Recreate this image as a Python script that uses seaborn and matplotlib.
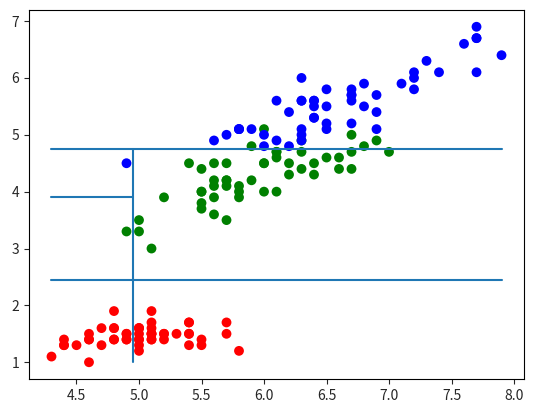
import pandas as pd
import matplotlib
matplotlib.use("Agg")
import matplotlib.pyplot as plt
import seaborn as sns

# iris : longueur sépale / longueur pétale
setosa_sl = [5.1, 4.9, 4.7, 4.6, 5.0, 5.4, 4.6, 5.0, 4.4, 4.9, 5.4, 4.8, 4.8, 4.3, 5.8, 5.7, 5.4,
             5.1, 5.7, 5.1, 5.4, 5.1, 4.6, 5.1, 4.8, 5.0, 5.0, 5.2, 5.2, 4.7, 4.8, 5.4, 5.2, 5.5,
             4.9, 5.0, 5.5, 4.9, 4.4, 5.1, 5.0, 4.5, 4.4, 5.0, 5.1, 4.8, 5.1, 4.6, 5.3, 5.0]
setosa_pl = [1.4, 1.4, 1.3, 1.5, 1.4, 1.7, 1.4, 1.5, 1.4, 1.5, 1.5, 1.6, 1.4, 1.1, 1.2, 1.5, 1.3,
             1.4, 1.7, 1.5, 1.7, 1.5, 1.0, 1.7, 1.9, 1.6, 1.6, 1.5, 1.4, 1.6, 1.6, 1.5, 1.5, 1.4,
             1.5, 1.2, 1.3, 1.4, 1.3, 1.5, 1.3, 1.3, 1.3, 1.6, 1.9, 1.4, 1.6, 1.4, 1.5, 1.4]
versicolor_sl = [7.0, 6.4, 6.9, 5.5, 6.5, 5.7, 6.3, 4.9, 6.6, 5.2, 5.0, 5.9, 6.0, 6.1, 5.6, 6.7, 5.6,
                 5.8, 6.2, 5.6, 5.9, 6.1, 6.3, 6.1, 6.4, 6.6, 6.8, 6.7, 6.0, 5.7, 5.5, 5.5, 5.8, 6.0,
                 5.4, 6.0, 6.7, 6.3, 5.6, 5.5, 5.5, 6.1, 5.8, 5.0, 5.6, 5.7, 5.7, 6.2, 5.1, 5.7]
versicolor_pl = [4.7, 4.5, 4.9, 4.0, 4.6, 4.5, 4.7, 3.3, 4.6, 3.9, 3.5, 4.2, 4.0, 4.7, 3.6, 4.4, 4.5,
                 4.1, 4.5, 3.9, 4.8, 4.0, 4.9, 4.7, 4.3, 4.4, 4.8, 5.0, 4.5, 3.5, 3.8, 3.7, 3.9, 5.1,
                 4.5, 4.5, 4.7, 4.4, 4.1, 4.0, 4.4, 4.6, 4.0, 3.3, 4.2, 4.2, 4.2, 4.3, 3.0, 4.1]
virginica_sl = [6.3, 5.8, 7.1, 6.3, 6.5, 7.6, 4.9, 7.3, 6.7, 7.2, 6.5, 6.4, 6.8, 5.7, 5.8, 6.4, 6.5,
                7.7, 7.7, 6.0, 6.9, 5.6, 7.7, 6.3, 6.7, 7.2, 6.2, 6.1, 6.4, 7.2, 7.4, 7.9, 6.4, 6.3,
                6.1, 7.7, 6.3, 6.4, 6.0, 6.9, 6.7, 6.9, 5.8, 6.8, 6.7, 6.7, 6.3, 6.5, 6.2, 5.9]
virginica_pl = [6.0, 5.1, 5.9, 5.6, 5.8, 6.6, 4.5, 6.3, 5.8, 6.1, 5.1, 5.3, 5.5, 5.0, 5.1, 5.3, 5.5,
                6.7, 6.9, 5.0, 5.7, 4.9, 6.7, 4.9, 5.7, 6.0, 4.8, 4.9, 5.6, 5.8, 6.1, 6.4, 5.6, 5.1,
                5.6, 6.1, 5.6, 5.5, 4.8, 5.4, 5.6, 5.1, 5.1, 5.9, 5.7, 5.2, 5.0, 5.2, 5.4, 5.1]

species = ["setosa", "versicolor", "virginica"]
colors = ["red", "green", "blue"]

# seuils de l'arbre de décision
split_root = 2.45      # petal length
split_x = 4.95         # sepal length
split_y = 4.75         # petal length
split_left = 3.9       # petal length

df = pd.DataFrame({
    "sepal_length": setosa_sl + versicolor_sl + virginica_sl,
    "petal_length": setosa_pl + versicolor_pl + virginica_pl,
    "species": ["setosa"] * 50 + ["versicolor"] * 50 + ["virginica"] * 50,
})

sns.set_style("ticks")
plt.rcParams["font.family"] = ["Noto Sans CJK KR", "DejaVu Sans"]

fig, ax = plt.subplots(figsize=(5.34, 4.13), dpi=100)
fig.subplots_adjust(left=0.0543, right=0.9813, top=0.9758, bottom=0.0823)

sns.scatterplot(data=df, x="sepal_length", y="petal_length", hue="species",
                hue_order=species, palette=colors, s=50, linewidth=0,
                legend=False, ax=ax)

x_min, x_max = df["sepal_length"].min(), df["sepal_length"].max()
y_min = df["petal_length"].min()

ax.plot([x_min, x_max], [split_root, split_root], color="C0")
ax.plot([split_x, split_x], [y_min, split_y], color="C0")
ax.plot([x_min, x_max], [split_y, split_y], color="C0")
ax.plot([x_min, split_x], [split_left, split_left], color="C0")

ax.set_xlabel("")
ax.set_ylabel("")
for s in ax.spines.values():
    s.set_visible(True)
    s.set_color("black")

plt.savefig("out.png", dpi=100)
